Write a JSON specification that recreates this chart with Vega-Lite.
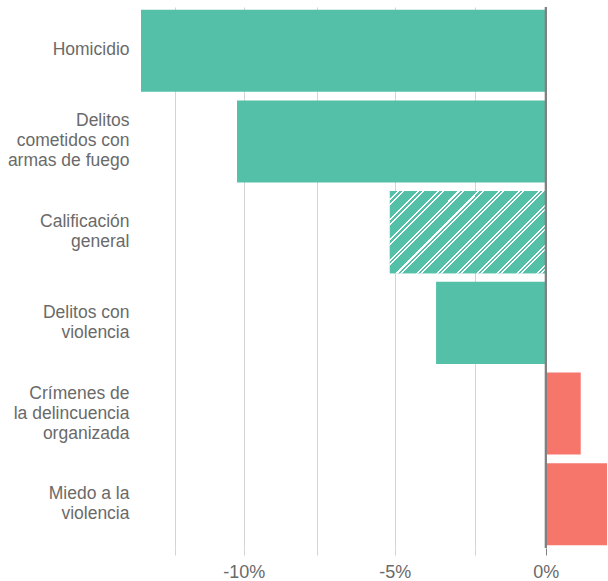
{
  "$schema": "https://vega.github.io/schema/vega-lite/v6.json",
  "width": 466,
  "height": 541,
  "autosize": "none",
  "padding": {"left": 141, "top": 7, "right": 1, "bottom": 33},
  "background": "white",
  "config": {
    "view": {"stroke": null},
    "font": "Liberation Sans",
    "axis": {"labelFont": "Liberation Sans", "labelColor": "#6a6a6a", "labelFontSize": 17}
  },
  "data": {
    "values": [
      {"indicador": "Homicidio", "cambio": -0.134},
      {"indicador": "Delitos cometidos con armas de fuego", "cambio": -0.1022},
      {"indicador": "Calificación general", "cambio": -0.0516},
      {"indicador": "Delitos con violencia", "cambio": -0.0363},
      {"indicador": "Crímenes de la delincuencia organizada", "cambio": 0.0116},
      {"indicador": "Miedo a la violencia", "cambio": 0.0203}
    ]
  },
  "layer": [
    {
      "mark": {"type": "bar"},
      "encoding": {
        "y": {
          "field": "indicador", "type": "nominal", "sort": null, "title": null,
          "scale": {"paddingInner": 0.095, "paddingOuter": 0.03},
          "axis": {
            "domain": false, "ticks": false, "labelPadding": 12, "labelLineHeight": 20,
            "labelFontSize": 17.5,
            "labelOffset": {
              "condition": [
                {"test": "datum.value == 'Delitos cometidos con armas de fuego' || datum.value == 'Crímenes de la delincuencia organizada'", "value": -20},
                {"test": "datum.value == 'Calificación general' || datum.value == 'Delitos con violencia' || datum.value == 'Miedo a la violencia'", "value": -10}
              ],
              "value": -1
            },
            "labelExpr": "datum.value == 'Delitos cometidos con armas de fuego' ? ['Delitos','cometidos con','armas de fuego'] : datum.value == 'Calificación general' ? ['Calificación','general'] : datum.value == 'Delitos con violencia' ? ['Delitos con','violencia'] : datum.value == 'Crímenes de la delincuencia organizada' ? ['Crímenes de','la delincuencia','organizada'] : datum.value == 'Miedo a la violencia' ? ['Miedo a la','violencia'] : datum.value"
          }
        },
        "x": {
          "field": "cambio", "type": "quantitative", "title": null,
          "scale": {"domain": [-0.134, 0.0203], "nice": false, "zero": false},
          "axis": {
            "values": [-0.1228, -0.1, -0.0757, -0.05, -0.0233, 0],
            "labelExpr": "datum.value == -0.1 ? '-10%' : datum.value == -0.05 ? '-5%' : datum.value == 0 ? '0%' : ''",
            "domain": false,
            "grid": true,
            "gridColor": "#d4d4d4",
            "tickSize": 7,
            "tickColor": {"condition": {"test": "datum.value === 0", "value": "#808080"}, "value": "#d4d4d4"},
            "labelPadding": 8,
            "labelFontSize": 18
          }
        },
        "fill": {
          "condition": {"test": "datum.cambio > 0", "value": "#f7766c"},
          "value": "#54c0a8"
        }
      }
    },
    {
      "transform": [{"filter": "datum.indicador === 'Calificación general'"}],
      "mark": {
        "type": "bar",
        "fill": {
          "gradient": "linear", "x1": 0, "y1": 0, "x2": 1.2, "y2": 0.632,
          "stops": [
            {"offset": 0, "color": "#54c0a8"},
            {"offset": 0.0335, "color": "#54c0a8"}, {"offset": 0.0335, "color": "#ffffff"},
            {"offset": 0.0419, "color": "#ffffff"}, {"offset": 0.0419, "color": "#54c0a8"},
            {"offset": 0.0511, "color": "#54c0a8"}, {"offset": 0.0511, "color": "#ffffff"},
            {"offset": 0.0595, "color": "#ffffff"}, {"offset": 0.0595, "color": "#54c0a8"},
            {"offset": 0.1173, "color": "#54c0a8"}, {"offset": 0.1173, "color": "#ffffff"},
            {"offset": 0.1257, "color": "#ffffff"}, {"offset": 0.1257, "color": "#54c0a8"},
            {"offset": 0.1349, "color": "#54c0a8"}, {"offset": 0.1349, "color": "#ffffff"},
            {"offset": 0.1433, "color": "#ffffff"}, {"offset": 0.1433, "color": "#54c0a8"},
            {"offset": 0.2010, "color": "#54c0a8"}, {"offset": 0.2010, "color": "#ffffff"},
            {"offset": 0.2094, "color": "#ffffff"}, {"offset": 0.2094, "color": "#54c0a8"},
            {"offset": 0.2186, "color": "#54c0a8"}, {"offset": 0.2186, "color": "#ffffff"},
            {"offset": 0.2270, "color": "#ffffff"}, {"offset": 0.2270, "color": "#54c0a8"},
            {"offset": 0.2848, "color": "#54c0a8"}, {"offset": 0.2848, "color": "#ffffff"},
            {"offset": 0.2932, "color": "#ffffff"}, {"offset": 0.2932, "color": "#54c0a8"},
            {"offset": 0.3024, "color": "#54c0a8"}, {"offset": 0.3024, "color": "#ffffff"},
            {"offset": 0.3108, "color": "#ffffff"}, {"offset": 0.3108, "color": "#54c0a8"},
            {"offset": 0.3685, "color": "#54c0a8"}, {"offset": 0.3685, "color": "#ffffff"},
            {"offset": 0.3769, "color": "#ffffff"}, {"offset": 0.3769, "color": "#54c0a8"},
            {"offset": 0.3861, "color": "#54c0a8"}, {"offset": 0.3861, "color": "#ffffff"},
            {"offset": 0.3945, "color": "#ffffff"}, {"offset": 0.3945, "color": "#54c0a8"},
            {"offset": 0.4523, "color": "#54c0a8"}, {"offset": 0.4523, "color": "#ffffff"},
            {"offset": 0.4607, "color": "#ffffff"}, {"offset": 0.4607, "color": "#54c0a8"},
            {"offset": 0.4699, "color": "#54c0a8"}, {"offset": 0.4699, "color": "#ffffff"},
            {"offset": 0.4783, "color": "#ffffff"}, {"offset": 0.4783, "color": "#54c0a8"},
            {"offset": 0.5360, "color": "#54c0a8"}, {"offset": 0.5360, "color": "#ffffff"},
            {"offset": 0.5444, "color": "#ffffff"}, {"offset": 0.5444, "color": "#54c0a8"},
            {"offset": 0.5536, "color": "#54c0a8"}, {"offset": 0.5536, "color": "#ffffff"},
            {"offset": 0.5620, "color": "#ffffff"}, {"offset": 0.5620, "color": "#54c0a8"},
            {"offset": 0.6198, "color": "#54c0a8"}, {"offset": 0.6198, "color": "#ffffff"},
            {"offset": 0.6282, "color": "#ffffff"}, {"offset": 0.6282, "color": "#54c0a8"},
            {"offset": 0.6374, "color": "#54c0a8"}, {"offset": 0.6374, "color": "#ffffff"},
            {"offset": 0.6458, "color": "#ffffff"}, {"offset": 0.6458, "color": "#54c0a8"},
            {"offset": 0.7035, "color": "#54c0a8"}, {"offset": 0.7035, "color": "#ffffff"},
            {"offset": 0.7119, "color": "#ffffff"}, {"offset": 0.7119, "color": "#54c0a8"},
            {"offset": 0.7211, "color": "#54c0a8"}, {"offset": 0.7211, "color": "#ffffff"},
            {"offset": 0.7295, "color": "#ffffff"}, {"offset": 0.7295, "color": "#54c0a8"},
            {"offset": 0.7873, "color": "#54c0a8"}, {"offset": 0.7873, "color": "#ffffff"},
            {"offset": 0.7957, "color": "#ffffff"}, {"offset": 0.7957, "color": "#54c0a8"},
            {"offset": 0.8049, "color": "#54c0a8"}, {"offset": 0.8049, "color": "#ffffff"},
            {"offset": 0.8133, "color": "#ffffff"}, {"offset": 0.8133, "color": "#54c0a8"},
            {"offset": 0.8710, "color": "#54c0a8"}, {"offset": 0.8710, "color": "#ffffff"},
            {"offset": 0.8794, "color": "#ffffff"}, {"offset": 0.8794, "color": "#54c0a8"},
            {"offset": 0.8886, "color": "#54c0a8"}, {"offset": 0.8886, "color": "#ffffff"},
            {"offset": 0.8970, "color": "#ffffff"}, {"offset": 0.8970, "color": "#54c0a8"},
            {"offset": 0.9548, "color": "#54c0a8"}, {"offset": 0.9548, "color": "#ffffff"},
            {"offset": 0.9632, "color": "#ffffff"}, {"offset": 0.9632, "color": "#54c0a8"},
            {"offset": 0.9724, "color": "#54c0a8"}, {"offset": 0.9724, "color": "#ffffff"},
            {"offset": 0.9808, "color": "#ffffff"}, {"offset": 0.9808, "color": "#54c0a8"},
            {"offset": 1, "color": "#54c0a8"}
          ]
        }
      },
      "encoding": {
        "y": {"field": "indicador", "type": "nominal", "sort": null},
        "x": {"field": "cambio", "type": "quantitative"}
      }
    },
    {
      "mark": {"type": "rule", "color": "#808080", "strokeWidth": 1.5},
      "encoding": {"x": {"datum": 0}}
    }
  ]
}
